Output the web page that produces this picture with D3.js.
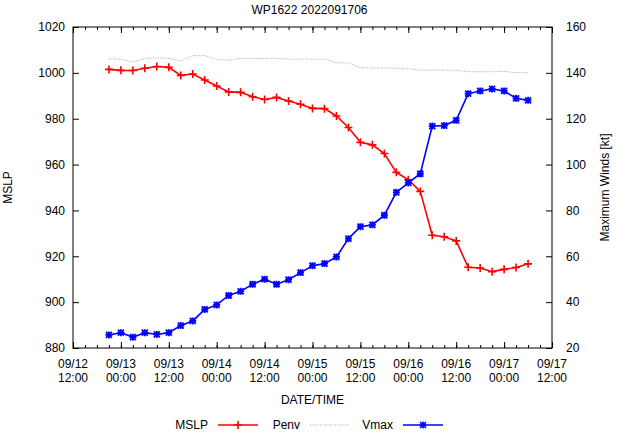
<!DOCTYPE html>
<html>
<head>
<meta charset="utf-8">
<script src="https://cdn.jsdelivr.net/npm/d3@7"></script>
<style>
  body { margin: 0; background: #fff; }
  svg text { font-family: "Liberation Sans", Arial, sans-serif; font-size: 12px; fill: #000; }
</style>
</head>
<body>
<div id="chart"></div>
<script>
// data (3-hourly)
var times = ["2022-09-12 21:00","2022-09-13 00:00","2022-09-13 03:00","2022-09-13 06:00","2022-09-13 09:00","2022-09-13 12:00",
  "2022-09-13 15:00","2022-09-13 18:00","2022-09-13 21:00","2022-09-14 00:00","2022-09-14 03:00","2022-09-14 06:00",
  "2022-09-14 09:00","2022-09-14 12:00","2022-09-14 15:00","2022-09-14 18:00","2022-09-14 21:00","2022-09-15 00:00",
  "2022-09-15 03:00","2022-09-15 06:00","2022-09-15 09:00","2022-09-15 12:00","2022-09-15 15:00","2022-09-15 18:00",
  "2022-09-15 21:00","2022-09-16 00:00","2022-09-16 03:00","2022-09-16 06:00","2022-09-16 09:00","2022-09-16 12:00",
  "2022-09-16 15:00","2022-09-16 18:00","2022-09-16 21:00","2022-09-17 00:00","2022-09-17 03:00","2022-09-17 06:00"];
var mslp = [1001.5,1001.1,1001.0,1002.0,1002.8,1002.4,998.9,999.5,996.9,994.3,991.7,991.5,
  989.6,988.4,989.3,987.7,986.3,984.5,984.4,981.2,976.2,969.7,968.6,964.8,
  956.6,953.4,948.3,929.2,928.5,926.7,915.2,914.9,913.3,914.3,915.1,916.7];
var penv = [1006.0,1006.0,1004.7,1006.3,1006.5,1006.3,1005.2,1007.5,1007.5,1005.7,1005.6,1006.3,
  1006.3,1006.3,1006.3,1006.0,1006.0,1006.0,1006.0,1004.4,1004.3,1002.3,1002.1,1002.1,
  1002.0,1001.8,1001.2,1001.2,1001.2,1001.1,1000.5,1000.5,1000.5,1000.6,1000.1,1000.1];
var vmax = [25.7,26.7,24.7,26.7,25.9,26.7,29.8,31.8,36.8,38.8,42.9,44.7,
  47.8,50.0,47.8,49.8,52.9,55.9,56.8,59.7,67.7,72.9,73.7,77.9,
  87.9,92.0,96.0,116.8,117.0,119.3,130.9,132.1,133.0,132.1,128.9,128.0];
var x_start = "2022-09-12 12:00", x_end = "2022-09-17 12:00";
var y_ticks = [880,900,920,940,960,980,1000,1020];
var y2_ticks = [20,40,60,80,100,120,140,160];
var title = "WP1622 2022091706";

var w = 619, h = 432;
var marges = {left: 73, right: 67, top: 27, bottom: 84};
var graf_w = w - marges.left - marges.right;
var graf_h = h - marges.top - marges.bottom;

var parse = d3.utcParse("%Y-%m-%d %H:%M");
var dates = times.map(parse);

var svg = d3.select("#chart").append("svg")
    .attr("width", w)
    .attr("height", h);
var g = svg.append("g")
    .attr("transform", "translate(" + marges.left + "," + marges.top + ")");

var x = d3.scaleUtc().domain([parse(x_start), parse(x_end)]).range([0, graf_w]);
var y = d3.scaleLinear().domain([880, 1020]).range([graf_h, 0]);
var y2 = d3.scaleLinear().domain([20, 160]).range([graf_h, 0]);

// <-- AXES -------------
var major = d3.utcHour.every(12).range(parse(x_start), new Date(+parse(x_end) + 1));
var minor = d3.utcHour.every(3).range(parse(x_start), new Date(+parse(x_end) + 1));

// bottom & top ticks (inward)
g.append("g").call(d3.axisBottom(x).tickValues(minor).tickSize(-3).tickFormat(""))
  .attr("transform", "translate(0," + graf_h + ")");
g.append("g").call(d3.axisTop(x).tickValues(minor).tickSize(-3).tickFormat(""));
g.append("g").call(d3.axisBottom(x).tickValues(major).tickSize(-6).tickFormat(""))
  .attr("transform", "translate(0," + graf_h + ")");
g.append("g").call(d3.axisTop(x).tickValues(major).tickSize(-6).tickFormat(""));

// x labels, two lines
var xl = g.append("g").selectAll("text").data(major).enter().append("text")
    .attr("text-anchor", "middle");
xl.append("tspan").attr("x", function(d) { return x(d); }).attr("y", graf_h + 20)
    .text(d3.utcFormat("%m/%d"));
xl.append("tspan").attr("x", function(d) { return x(d); }).attr("y", graf_h + 34)
    .text(d3.utcFormat("%H:%M"));

g.append("g").call(d3.axisLeft(y).tickValues(y_ticks).tickSize(-6).tickPadding(8).tickFormat(d3.format("d")))
  .call(function(a) { a.selectAll("text").attr("font-size", 12).attr("font-family", null); });
g.append("g").attr("transform", "translate(" + graf_w + ",0)")
  .call(d3.axisRight(y2).tickValues(y2_ticks).tickSize(-6).tickPadding(14).tickFormat(d3.format("d")))
  .call(function(a) { a.selectAll("text").attr("font-size", 12).attr("font-family", null); });
g.selectAll(".domain").remove();

// border
g.append("rect").attr("width", graf_w).attr("height", graf_h)
  .attr("fill", "none").attr("stroke", "#000").attr("stroke-width", 1);
// -- AXES ------------->

// titles
svg.append("text").attr("x", w / 2).attr("y", 14).attr("text-anchor", "middle").text(title);
svg.append("text").attr("x", marges.left + graf_w / 2).attr("y", 404).attr("text-anchor", "middle").text("DATE/TIME");
svg.append("text").attr("transform", "translate(12," + (marges.top + graf_h / 2) + ") rotate(-90)")
  .attr("text-anchor", "middle").text("MSLP");
svg.append("text").attr("transform", "translate(609," + (marges.top + graf_h / 2) + ") rotate(-90)")
  .attr("text-anchor", "middle").text("Maximum Winds [kt]");

// markers
var plus = "M-4,0H4M0,-4V4";
var star = "M-3.5,0H3.5M0,-3.5V3.5M-3,-3L3,3M-3,3L3,-3";

// Penv
g.append("path")
  .datum(dates.map(function(d, i) { return [x(d), y(penv[i])]; }))
  .attr("d", d3.line())
  .attr("fill", "none").attr("stroke", "#888").attr("stroke-width", 0.8)
  .attr("stroke-dasharray", "1,1.5");

// MSLP
g.append("path")
  .datum(dates.map(function(d, i) { return [x(d), y(mslp[i])]; }))
  .attr("d", d3.line())
  .attr("fill", "none").attr("stroke", "#ff0000").attr("stroke-width", 1.6);
g.append("g").selectAll("path").data(dates).enter().append("path")
  .attr("transform", function(d, i) { return "translate(" + x(d) + "," + y(mslp[i]) + ")"; })
  .attr("d", plus).attr("stroke", "#ff0000").attr("stroke-width", 1.6);

// Vmax
g.append("path")
  .datum(dates.map(function(d, i) { return [x(d), y2(vmax[i])]; }))
  .attr("d", d3.line())
  .attr("fill", "none").attr("stroke", "#0000ff").attr("stroke-width", 1.6);
g.append("g").selectAll("path").data(dates).enter().append("path")
  .attr("transform", function(d, i) { return "translate(" + x(d) + "," + y2(vmax[i]) + ")"; })
  .attr("d", star).attr("stroke", "#0000ff").attr("stroke-width", 1.8);

// <-- LEGEND -------------
var legend = [
  {name: "MSLP", color: "#ff0000", dash: null, mark: plus, x0: 218},
  {name: "Penv", color: "#888", dash: "1,1.5", mark: null, x0: 310},
  {name: "Vmax", color: "#0000ff", dash: null, mark: star, x0: 403}
];
var ly = 425;
legend.forEach(function(d) {
  svg.append("text").attr("x", d.x0 - 10).attr("y", ly + 4).attr("text-anchor", "end").text(d.name);
  svg.append("line").attr("x1", d.x0).attr("x2", d.x0 + 40).attr("y1", ly).attr("y2", ly)
    .attr("stroke", d.color).attr("stroke-width", d.dash ? 0.8 : 1.6)
    .attr("stroke-dasharray", d.dash);
  if (d.mark) {
    svg.append("path").attr("transform", "translate(" + (d.x0 + 20) + "," + ly + ")")
      .attr("d", d.mark).attr("stroke", d.color).attr("stroke-width", 1.6);
  }
});
// -- LEGEND ------------->
</script>
</body>
</html>
